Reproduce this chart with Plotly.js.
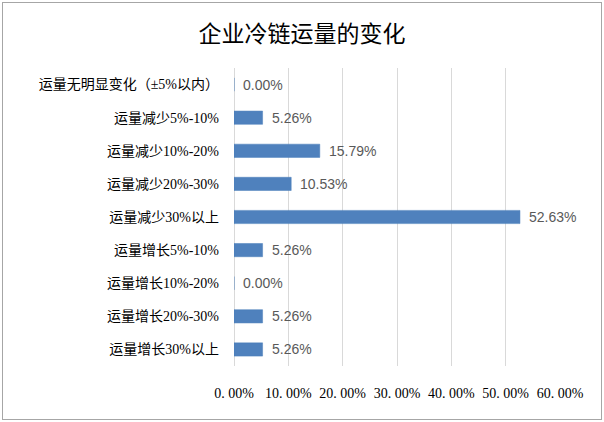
<!DOCTYPE html>
<html>
<head>
<meta charset="utf-8">
<script src="https://cdn.plot.ly/plotly-3.0.1.min.js"></script>
<style>
body{margin:0;padding:0;background:#fff;}
#wrap{position:relative;width:604px;height:422px;}
#chart{position:absolute;left:0;top:0;width:604px;height:422px;}
#frame{position:absolute;left:2px;top:2px;width:598px;height:416px;border:1px solid #a6a6a6;pointer-events:none;}
</style>
</head>
<body>
<div id="wrap"><div id="chart"></div><div id="frame"></div></div>
<script>
var categories = [
  "运量无明显变化（±5%以内）",
  "运量减少5%-10%",
  "运量减少10%-20%",
  "运量减少20%-30%",
  "运量减少30%以上",
  "运量增长5%-10%",
  "运量增长10%-20%",
  "运量增长20%-30%",
  "运量增长30%以上"
];
var values = [0.00, 5.26, 15.79, 10.53, 52.63, 5.26, 0.00, 5.26, 5.26];
var tickValues = [0, 10, 20, 30, 40, 50, 60];
var tickLabels = ["0. 00%", "10. 00%", "20. 00%", "30. 00%", "40. 00%", "50. 00%", "60. 00%"];
var titleText = "企业冷链运量的变化";

var trace = {
  type: "bar",
  orientation: "h",
  y: categories,
  x: values,
  width: 0.4,
  marker: {color: "#4f81bd", line: {color: "#4a7ebb", width: 0.5}},
  hoverinfo: "none"
};

var labelAnnotations = categories.map(function(c, i){
  return {
    x: values[i], y: c, xref: "x", yref: "y",
    text: values[i].toFixed(2) + "%",
    showarrow: false, xanchor: "left", yanchor: "middle",
    xshift: 7,
    font: {family: "Liberation Sans, Noto Sans CJK SC, sans-serif", size: 14, color: "#595959"}
  };
});

var layout = {
  width: 604,
  height: 422,
  margin: {l: 234, r: 44, t: 68, b: 56},
  paper_bgcolor: "#ffffff",
  plot_bgcolor: "#ffffff",
  showlegend: false,
  title: {
    text: titleText,
    x: 0.5, xref: "container", xanchor: "center",
    y: 32, yref: "container", yanchor: "middle",
    font: {family: "Noto Sans CJK SC, sans-serif", size: 23, color: "#000000", weight: 400}
  },
  annotations: labelAnnotations,
  xaxis: {
    range: [0, 60],
    tickvals: tickValues,
    ticktext: tickLabels,
    showgrid: true,
    gridcolor: "#d9d9d9",
    gridwidth: 1,
    zeroline: true,
    zerolinecolor: "#d9d9d9",
    showline: false,
    ticks: "",
    ticklabelstandoff: 17,
    tickfont: {family: "Liberation Serif, Noto Sans CJK SC, serif", size: 14, color: "#000000"},
    fixedrange: true
  },
  yaxis: {
    autorange: "reversed",
    showgrid: false,
    zeroline: false,
    showline: false,
    ticks: "",
    ticklabelstandoff: 14,
    tickfont: {family: "Liberation Serif, Noto Sans CJK SC, serif", size: 14, color: "#000000"},
    fixedrange: true
  },
  bargap: 0.6
};

Plotly.newPlot("chart", [trace], layout, {displayModeBar: false, staticPlot: true});
</script>
</body>
</html>
